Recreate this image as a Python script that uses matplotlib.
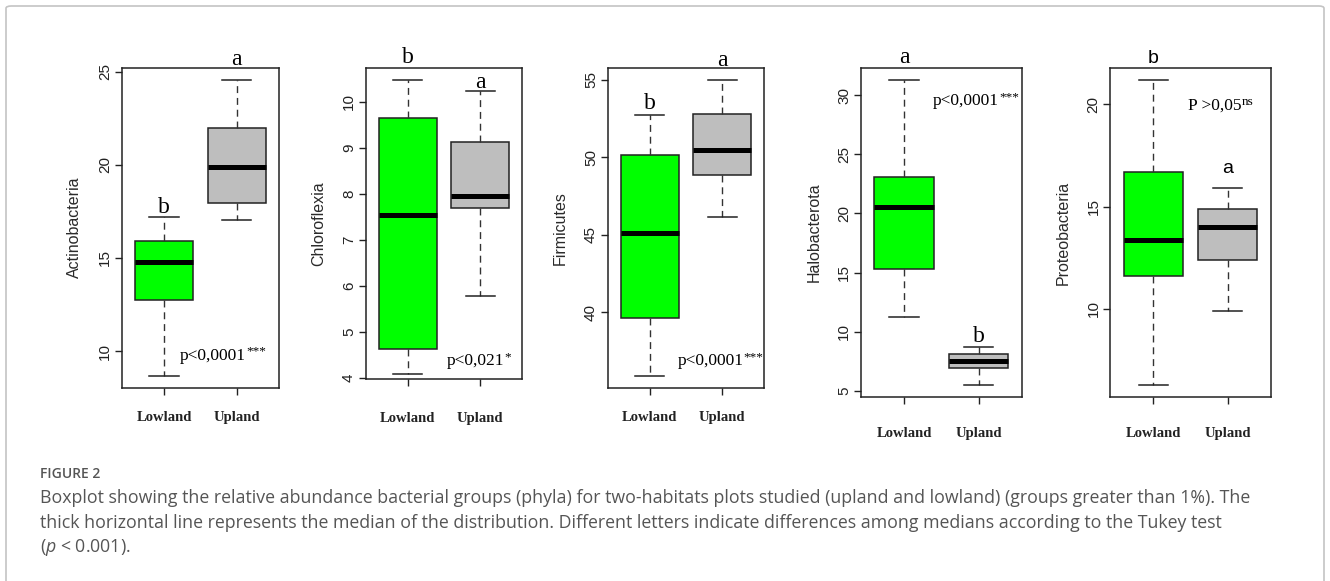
import matplotlib.pyplot as plt
from matplotlib.patches import FancyBboxPatch
from matplotlib.ticker import MultipleLocator

plt.rcParams['mathtext.fontset'] = 'custom'
plt.rcParams['mathtext.rm'] = 'Open Sans'
plt.rcParams['mathtext.it'] = 'Open Sans:italic'

W, H = 1330, 581

grupos = ['Lowland', 'Upland']
phyla = ['Actinobacteria', 'Chloroflexia', 'Firmicutes', 'Halobacterota', 'Proteobacteria']

# cada lista: bigote inferior, Q1, mediana, Q3, bigote superior
actino_low = [8.67, 12.76, 14.80, 15.93, 17.18]
actino_up = [17.04, 17.96, 19.90, 21.97, 24.57]
chloro_low = [4.09, 4.64, 7.55, 9.65, 10.47]
chloro_up = [5.79, 7.70, 7.96, 9.13, 10.24]
firmi_low = [35.89, 39.61, 45.08, 50.13, 52.71]
firmi_up = [46.12, 48.83, 50.43, 52.78, 55.00]
halo_low = [11.22, 15.33, 20.57, 23.07, 31.27]
halo_up = [5.51, 6.92, 7.49, 8.11, 8.73]
proteo_low = [6.31, 11.60, 13.37, 16.70, 21.16]
proteo_up = [9.88, 12.41, 13.98, 14.86, 15.89]

letras = [('b', 'a'), ('b', 'a'), ('b', 'a'), ('a', 'b'), ('b', 'a')]
p_main = ['p<0,0001', 'p<0,021', 'p<0,0001', 'p<0,0001', 'P >0,05']
p_sup = ['***', '*', '***', '***', 'ns']
paso_ticks = [5, 1, 5, 5, 5]

datos = [(actino_low, actino_up), (chloro_low, chloro_up), (firmi_low, firmi_up),
         (halo_low, halo_up), (proteo_low, proteo_up)]

# posiciones en pixeles (izq, arriba, der, abajo) de cada panel
cajas_px = [(121.7, 67.7, 279, 387.7), (365.7, 68.3, 522.3, 379),
            (607.7, 67.7, 764.3, 387.7), (861, 68.3, 1021.7, 396.7),
            (1110.3, 68.3, 1270.7, 396.7)]
pad_xlabels = [12, 18.5, 12, 16.5, 16.5]
# donde va cada letra: sobre el bigote o sobre el borde del panel (offset en px)
pos_letras = [(('whisker', 4.4), ('top', 2.7)), (('top', 5), ('whisker', 3)),
              (('whisker', 5.7), ('top', 2)), (('top', 5), ('whisker', 4.3)),
              (('top', 5.6), ('whisker', 15.6))]
pos_p = [(0.58, 0.087), (0.70, 0.045), (0.655, 0.071), (0.655, 0.888), (0.65, 0.873)]

colores = ['#00FF00', '#BEBEBE']

fig = plt.figure(figsize=(W / 100, H / 100), dpi=100)

# marco gris redondeado alrededor de todo
marco = FancyBboxPatch((6 / W, -20 / H), (W - 12) / W, (H + 14) / H,
                       boxstyle='round,pad=0,rounding_size=0.004',
                       transform=fig.transFigure, fill=False,
                       edgecolor='#c4c4c4', linewidth=1.2, clip_on=False)
fig.patches.append(marco)

for i, nombre in enumerate(phyla):
    l, t, r, b = cajas_px[i]
    ax = fig.add_axes([l / W, 1 - b / H, (r - l) / W, (b - t) / H])
    ancho_px = r - l

    stats = []
    for serie in datos[i]:
        stats.append({'whislo': serie[0], 'q1': serie[1], 'med': serie[2],
                      'q3': serie[3], 'whishi': serie[4]})

    res = ax.bxp(stats, positions=[1, 2], widths=0.8, patch_artist=True,
                 showfliers=False, capwidths=0.4,
                 boxprops=dict(edgecolor='#222222', linewidth=1.1),
                 medianprops=dict(color='black', linewidth=3.6, solid_capstyle='butt'),
                 whiskerprops=dict(color='#333333', linewidth=1.0, linestyle=(0, (5, 3.5))),
                 capprops=dict(color='#222222', linewidth=1.1))
    for caja, c in zip(res['boxes'], colores):
        caja.set_facecolor(c)

    # limites como en R: 4% extra arriba y abajo
    lo = min(datos[i][0][0], datos[i][1][0])
    hi = max(datos[i][0][4], datos[i][1][4])
    rango = hi - lo
    ax.set_ylim(lo - 0.04 * rango, hi + 0.04 * rango)
    if i == 1:
        ax.set_ylim(3.98, hi + 0.04 * rango)
    ax.set_xlim(0.42, 2.58)

    ax.yaxis.set_major_locator(MultipleLocator(paso_ticks[i]))
    ax.set_xticks([1, 2])
    ax.set_xticklabels(grupos, fontfamily='Liberation Serif', fontweight='bold', fontsize=10.5)
    ax.tick_params(axis='x', length=5, width=1, pad=pad_xlabels[i], colors='#222222')
    ax.tick_params(axis='y', length=5, width=1, pad=2, labelsize=11, colors='#222222',
                   labelrotation=90)
    for lab in ax.get_yticklabels():
        lab.set_fontfamily('Liberation Sans')
        lab.set_va('center')
    for s in ax.spines.values():
        s.set_linewidth(1.1)
        s.set_color('#222222')

    ax.set_ylabel(nombre, fontfamily='Liberation Sans', fontsize=11.5, color='#2a2a2a')
    ax.yaxis.label.set_va('center')
    ax.yaxis.set_label_coords(-47 / ancho_px, 0.5)

    # letras de Tukey
    fam = 'Liberation Sans' if i == 4 else 'Liberation Serif'
    tam = 14 if i == 4 else 17
    for j in range(2):
        donde, off = pos_letras[i][j]
        if donde == 'top':
            ax.annotate(letras[i][j], xy=(j + 1, 1), xycoords=('data', 'axes fraction'),
                        xytext=(0, off * 0.72), textcoords='offset points',
                        ha='center', va='baseline', fontfamily=fam, fontsize=tam,
                        annotation_clip=False)
        else:
            ax.annotate(letras[i][j], xy=(j + 1, datos[i][j][4]),
                        xytext=(0, off * 0.72), textcoords='offset points',
                        ha='center', va='baseline', fontfamily=fam, fontsize=tam,
                        annotation_clip=False)

    # valor p con su superindice pegado a la derecha
    px, py = pos_p[i]
    t_p = ax.text(px, py, p_main[i], transform=ax.transAxes, ha='center', va='baseline',
                  fontfamily='Liberation Serif', fontsize=12.5)
    ax.annotate(p_sup[i], xy=(1, 1), xycoords=t_p, xytext=(0.3, 1.5), textcoords='offset points',
                ha='left', va='top', fontfamily='Liberation Serif', fontsize=9.5)

# pie de figura
gris = '#555555'
fig.text(40 / W, 1 - 474 / H, 'FIGURE 2', fontfamily='Open Sans', fontsize=10,
         color=gris, va='center', fontweight='semibold')
lineas = [
    'Boxplot showing the relative abundance bacterial groups (phyla) for two-habitats plots studied (upland and lowland) (groups greater than 1%). The',
    'thick horizontal line represents the median of the distribution. Different letters indicate differences among medians according to the Tukey test',
    '($\\it{p}$ < 0.001).',
]
for k, linea in enumerate(lineas):
    fig.text(40 / W, 1 - (498 + 24.5 * k) / H, linea, fontfamily='Open Sans',
             fontsize=12.8, color=gris, va='center')

fig.savefig('out.png', dpi=100)
plt.close(fig)
